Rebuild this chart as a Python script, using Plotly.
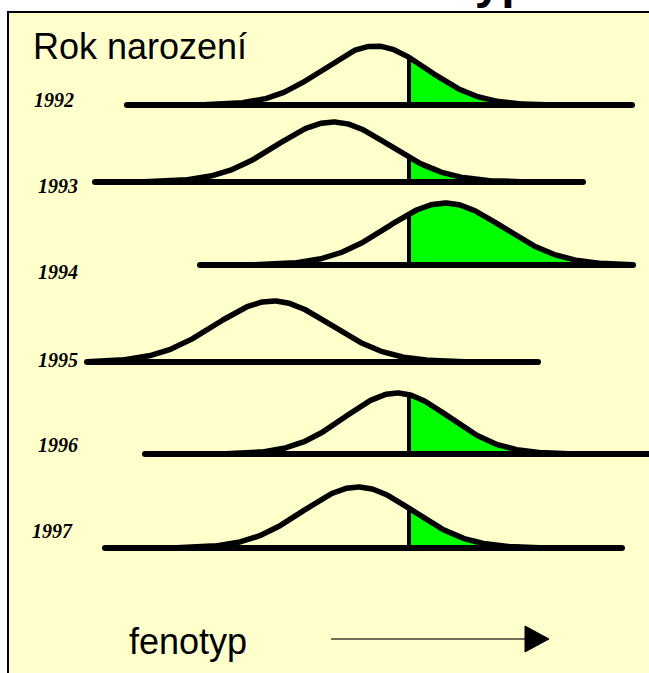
import numpy as np
import plotly.graph_objects as go

# ---- data (schematic phenotype distributions per birth year) ----
years = ["1992", "1993", "1994", "1995", "1996", "1997"]
dist_mean = [375, 333, 445, 273, 397, 358]      # phenotype mean
dist_sd = [52, 57, 58, 58, 52, 55]              # phenotype spread
dist_height = [59, 60, 62, 61, 61, 61]          # curve height
axis_start = [127, 95, 200, 87, 145, 105]       # phenotype axis start
axis_end = [632, 583, 633, 538, 649, 622]       # phenotype axis end
row_level = [105, 182, 265, 362, 454, 548]      # vertical level of each row
selected = [True, True, True, False, True, True]
threshold = 409
label_x = [32, 36, 36, 36, 36, 30]
label_y = [100, 186, 272, 360, 445, 531]

W, H = 649, 673
BG = "#FFFFCC"

fig = go.Figure()

for i, yr in enumerate(years):
    m, s, h, b = dist_mean[i], dist_sd[i], dist_height[i], row_level[i]
    lo = max(axis_start[i], m - 3.3 * s)
    hi = min(axis_end[i], m + 3.3 * s)
    xs = np.linspace(lo, hi, 300)
    ys = b - h * np.exp(-0.5 * ((xs - m) / s) ** 2)
    if selected[i]:
        xg = np.linspace(threshold, hi, 200)
        yg = b - h * np.exp(-0.5 * ((xg - m) / s) ** 2)
        fig.add_trace(go.Scatter(
            x=np.concatenate([[threshold], xg, [hi, threshold]]),
            y=np.concatenate([[b], yg, [b, b]]),
            fill="toself", fillcolor="#00FF00", mode="lines",
            line=dict(width=0, color="#00FF00"), hoverinfo="skip"))
    # baseline (with rounded ends)
    fig.add_trace(go.Scatter(x=[axis_start[i], axis_end[i]], y=[b, b], mode="lines+markers",
                             line=dict(color="black", width=6),
                             marker=dict(color="black", size=6, line=dict(width=0)),
                             hoverinfo="skip"))
    # curve
    fig.add_trace(go.Scatter(x=xs, y=ys, mode="lines",
                             line=dict(color="black", width=5.5), hoverinfo="skip"))
    if selected[i]:
        yt = b - h * np.exp(-0.5 * ((threshold - m) / s) ** 2)
        fig.add_trace(go.Scatter(x=[threshold, threshold], y=[b, yt], mode="lines",
                                 line=dict(color="black", width=4), hoverinfo="skip"))
    fig.add_annotation(x=label_x[i], y=label_y[i], xref="x", yref="y",
                       text=yr, showarrow=False, xanchor="left", yanchor="middle",
                       font=dict(family="Liberation Serif", size=20, color="black",
                                 weight="bold", style="italic"))

# arrow
fig.add_trace(go.Scatter(x=[331, 526], y=[639, 639], mode="lines",
                         line=dict(color="#6E6E58", width=2), hoverinfo="skip"))
fig.add_trace(go.Scatter(x=[525, 549, 525, 525], y=[626, 639, 652, 626],
                         fill="toself", fillcolor="black", mode="lines",
                         line=dict(color="black", width=1), hoverinfo="skip"))

fig.add_annotation(x=31, y=46.5, xref="x", yref="y", text="Rok narození",
                   showarrow=False, xanchor="left", yanchor="middle",
                   font=dict(family="Liberation Sans", size=36, color="black"))
fig.add_annotation(x=127, y=641.5, xref="x", yref="y", text="fenotyp",
                   showarrow=False, xanchor="left", yanchor="middle",
                   font=dict(family="Liberation Sans", size=36, color="black"))
# title, mostly cut off above the page
fig.add_annotation(x=533 / W, y=1 + 19 / H, xref="paper", yref="paper", text="Fenotyp",
                   showarrow=False, xanchor="right", yanchor="middle",
                   font=dict(family="Liberation Sans", size=48, color="black",
                             weight="bold"))

fig.add_shape(type="rect", x0=8, y0=12, x1=W + 20, y1=H + 20, xref="x", yref="y",
              fillcolor=BG, line=dict(color="black", width=2), layer="below")

fig.update_layout(
    width=W, height=H, margin=dict(l=0, r=0, t=0, b=0),
    paper_bgcolor="white", plot_bgcolor="white", showlegend=False,
    xaxis=dict(range=[0, W], visible=False, fixedrange=True),
    yaxis=dict(range=[H, 0], visible=False, fixedrange=True),
)

fig.write_html(
    "out.html",
    config={"displayModeBar": False},
    post_script="document.body.style.margin='0';document.body.style.overflow='hidden';",
)
